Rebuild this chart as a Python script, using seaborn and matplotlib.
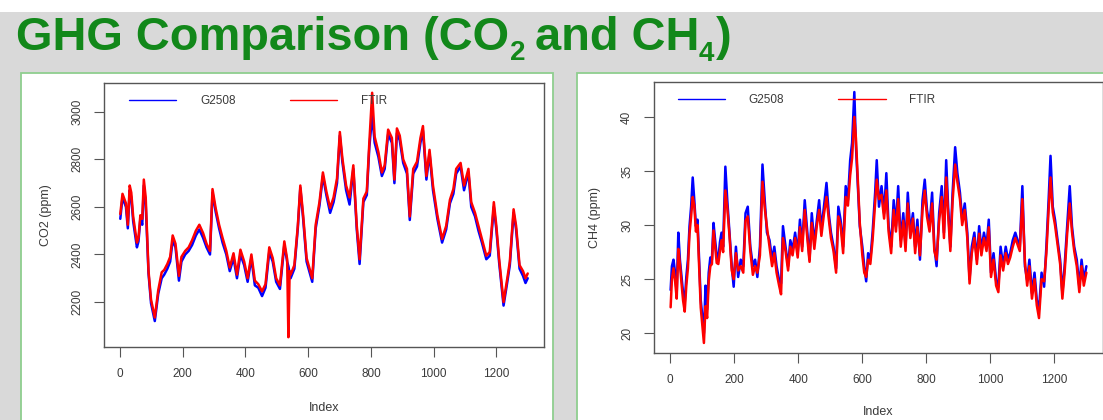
import numpy as np
import pandas as pd
import matplotlib
matplotlib.use("Agg")
import matplotlib.pyplot as plt
from matplotlib.patches import Rectangle
from matplotlib.lines import Line2D
import seaborn as sns

# --- DATA ---
co2_index = [1, 8, 19, 25, 31, 36, 42, 54, 59, 65, 71, 76, 82, 91, 99, 111, 122, 133, 141, 151,
             160, 168, 177, 188, 196, 208, 219, 230, 242, 253, 265, 276, 287, 295, 305, 316, 327,
             339, 350, 362, 373, 384, 396, 407, 419, 430, 441, 453, 464, 476, 487, 498, 510, 524,
             533, 537, 541, 544, 556, 567, 575, 584, 595, 613, 624, 636, 647, 658, 670, 681, 692,
             701, 709, 721, 732, 744, 755, 764, 776, 787, 795, 804, 812, 824, 835, 844, 855, 867,
             875, 883, 892, 903, 915, 924, 935, 947, 958, 966, 977, 987, 998, 1012, 1027, 1040,
             1052, 1063, 1072, 1086, 1097, 1111, 1120, 1132, 1143, 1154, 1168, 1179, 1192, 1200,
             1209, 1223, 1235, 1243, 1255, 1263, 1274, 1285, 1293, 1300]
co2_g2508 = [2550, 2640, 2600, 2510, 2670, 2640, 2540, 2430, 2455, 2550, 2525, 2690, 2610, 2320,
             2195, 2120, 2235, 2300, 2315, 2340, 2370, 2460, 2430, 2290, 2370, 2400, 2415, 2440,
             2480, 2505, 2470, 2430, 2400, 2660, 2580, 2510, 2450, 2400, 2330, 2385, 2300, 2400,
             2355, 2285, 2385, 2270, 2260, 2225, 2260, 2410, 2370, 2285, 2255, 2440, 2370, 2350,
             2320, 2300, 2340, 2510, 2680, 2550, 2370, 2285, 2510, 2605, 2730, 2650, 2575, 2620,
             2700, 2900, 2790, 2670, 2610, 2760, 2505, 2360, 2620, 2650, 2850, 2985, 2870, 2810,
             2730, 2760, 2905, 2870, 2700, 2910, 2880, 2785, 2740, 2545, 2740, 2770, 2870, 2920,
             2715, 2825, 2670, 2550, 2450, 2505, 2615, 2655, 2740, 2770, 2670, 2745, 2600, 2560,
             2500, 2450, 2380, 2395, 2600, 2505, 2365, 2185, 2285, 2355, 2575, 2505, 2340, 2310,
             2280, 2300]
co2_ftir = [2570, 2655, 2615, 2525, 2690, 2660, 2560, 2450, 2470, 2565, 2550, 2715, 2640, 2330,
            2210, 2135, 2250, 2325, 2335, 2360, 2390, 2480, 2445, 2310, 2390, 2415, 2430, 2460,
            2500, 2525, 2490, 2445, 2415, 2675, 2595, 2525, 2470, 2415, 2345, 2405, 2315, 2420,
            2370, 2300, 2400, 2290, 2275, 2245, 2275, 2430, 2385, 2300, 2270, 2455, 2380, 2052,
            2330, 2315, 2355, 2520, 2690, 2565, 2385, 2300, 2525, 2620, 2745, 2665, 2595, 2640,
            2720, 2915, 2805, 2690, 2640, 2775, 2520, 2380, 2635, 2665, 2870, 3080, 2895, 2830,
            2745, 2775, 2925, 2890, 2715, 2930, 2900, 2800, 2760, 2560, 2760, 2790, 2890, 2940,
            2730, 2840, 2690, 2565, 2465, 2520, 2630, 2675, 2760, 2785, 2690, 2760, 2620, 2575,
            2520, 2465, 2395, 2410, 2620, 2520, 2380, 2200, 2300, 2370, 2590, 2520, 2355, 2330,
            2300, 2320]

ch4_index = [1, 5, 10, 15, 20, 25, 30, 35, 40, 45, 50, 55, 60, 65, 70, 75, 80, 85, 90, 95, 100,
             105, 110, 115, 120, 125, 130, 135, 140, 145, 150, 155, 160, 165, 172, 178, 185, 192,
             198, 205, 212, 220, 228, 235, 242, 250, 258, 265, 272, 280, 288, 295, 302, 310, 318,
             325, 332, 340, 346, 352, 360, 368, 375, 382, 390, 398, 405, 412, 420, 428, 435, 442,
             450, 458, 465, 472, 480, 488, 495, 502, 510, 518, 525, 532, 540, 548, 555, 562, 568,
             575, 580, 586, 592, 600, 606, 612, 618, 625, 632, 640, 645, 652, 660, 668, 675, 682,
             690, 698, 705, 712, 720, 728, 735, 742, 750, 758, 765, 772, 780, 788, 795, 802, 810,
             818, 825, 832, 840, 848, 855, 862, 868, 875, 882, 890, 897, 905, 912, 920, 928, 935,
             942, 950, 958, 965, 972, 980, 988, 995, 1002, 1010, 1018, 1025, 1032, 1040, 1048,
             1055, 1062, 1070, 1078, 1085, 1092, 1100, 1108, 1115, 1122, 1130, 1138, 1145, 1152,
             1160, 1168, 1175, 1182, 1188, 1195, 1202, 1210, 1218, 1225, 1232, 1240, 1248, 1255,
             1262, 1270, 1278, 1285, 1292, 1300]
ch4_g2508 = [24.0, 26.2, 26.8, 25.6, 23.7, 29.3, 26.8, 25.2, 23.7, 22.8, 25.2, 26.8, 29.9, 31.7,
             34.4, 32.3, 29.9, 30.5, 26.8, 23.1, 21.5, 20.0, 24.4, 22.2, 25.6, 27.0, 26.8, 30.2,
             28.6, 27.2, 26.8, 28.4, 29.3, 28.0, 35.4, 32.3, 29.3, 26.2, 24.3, 28.0, 25.2, 26.8,
             26.2, 31.1, 31.7, 28.0, 26.2, 26.8, 25.2, 28.0, 35.6, 32.3, 29.3, 28.6, 26.8, 28.0,
             26.2, 24.9, 24.6, 29.9, 28.0, 26.2, 28.6, 27.7, 29.3, 27.4, 30.5, 28.0, 32.3, 29.3,
             26.8, 31.1, 28.3, 30.5, 32.3, 29.6, 31.7, 33.9, 31.1, 29.3, 28.0, 26.0, 31.7, 30.5,
             28.0, 33.6, 32.3, 36.0, 37.6, 42.3, 37.3, 33.6, 29.9, 28.0, 26.2, 24.8, 27.4, 26.8,
             29.3, 33.0, 36.0, 31.7, 33.6, 31.1, 34.8, 29.9, 28.0, 32.3, 29.9, 33.6, 28.6, 31.1,
             28.0, 33.0, 29.3, 31.1, 28.0, 30.5, 26.8, 32.3, 34.2, 31.4, 29.9, 33.0, 28.0, 26.2,
             31.1, 33.6, 29.3, 36.0, 31.7, 28.0, 33.0, 37.2, 34.8, 33.0, 30.5, 32.0, 29.3, 25.0,
             28.0, 29.3, 26.8, 29.9, 27.7, 29.3, 28.0, 30.5, 25.6, 27.4, 24.9, 24.3, 28.0, 26.2,
             28.0, 26.8, 27.4, 28.6, 29.3, 28.6, 28.0, 33.6, 26.2, 24.9, 26.8, 23.7, 25.6, 23.1,
             22.2, 25.6, 24.3, 28.0, 32.3, 36.4, 31.7, 30.5, 28.6, 26.8, 23.7, 26.2, 29.9, 33.6,
             29.9, 28.0, 26.8, 24.3, 26.8, 24.9, 26.2]
ch4_ftir = [22.4, 25.0, 26.0, 24.8, 23.2, 27.8, 26.4, 24.6, 23.0, 22.0, 24.4, 26.0, 29.2, 30.8,
            32.6, 31.8, 29.4, 30.0, 26.2, 22.4, 20.8, 19.1, 22.5, 21.4, 24.8, 26.2, 26.4, 29.5,
            28.0, 26.5, 26.4, 27.6, 28.6, 27.5, 33.2, 31.6, 29.0, 25.8, 25.0, 27.4, 25.8, 26.2,
            25.6, 30.4, 30.8, 27.6, 25.4, 26.2, 25.6, 27.2, 34.0, 31.6, 29.8, 28.0, 26.2, 27.4,
            25.6, 24.4, 23.6, 28.8, 27.6, 25.8, 28.0, 27.2, 28.8, 27.0, 29.8, 27.6, 31.4, 28.8,
            26.6, 30.2, 27.8, 30.0, 31.4, 29.0, 31.0, 32.6, 30.6, 28.8, 27.6, 25.6, 30.8, 30.0,
            27.4, 32.6, 31.8, 34.6, 36.2, 40.0, 38.0, 34.0, 30.2, 27.2, 25.6, 25.2, 26.8, 26.4,
            28.6, 32.0, 34.2, 32.4, 32.8, 30.6, 33.2, 29.4, 27.4, 31.4, 29.4, 32.4, 28.0, 30.4,
            27.6, 32.0, 28.8, 30.6, 27.4, 29.8, 27.2, 31.4, 33.2, 30.8, 29.4, 32.0, 27.6, 26.8,
            30.4, 32.6, 28.8, 34.4, 31.0, 27.6, 32.2, 35.6, 34.0, 32.4, 30.0, 31.4, 28.8, 24.6,
            27.4, 28.8, 26.4, 29.2, 27.2, 28.8, 27.6, 29.8, 25.2, 26.8, 24.4, 23.8, 27.2, 25.8,
            27.4, 26.4, 27.0, 28.0, 28.8, 28.2, 27.6, 32.4, 26.6, 24.4, 26.2, 23.2, 25.0, 22.6,
            21.4, 25.0, 24.8, 27.4, 31.4, 34.4, 31.2, 30.0, 28.2, 26.4, 23.2, 25.6, 29.2, 32.0,
            29.4, 27.6, 26.2, 23.8, 26.2, 24.4, 25.6]

series_names = ["G2508", "FTIR"]
series_colors = ["#0000ff", "#ff0000"]
x_ticks = [0, 200, 400, 600, 800, 1000, 1200]
co2_ticks = [2200, 2400, 2600, 2800, 3000]
ch4_ticks = [20, 25, 30, 35, 40]

# title pieces: (text, fontsize, baseline drop in px, gap before in px)
title_parts = [("GHG Comparison (CO", 33.8, 0, 0), ("2", 20, 10, 1),
               ("and CH", 33.8, 0, 9), ("4", 20, 11, 0), (")", 33.8, 0, 2)]

title_green = "#12881a"
border_green = "#8fce8f"

# --- STYLE ---
sns.set_style("white")
plt.rcParams["font.family"] = ["Liberation Sans", "DejaVu Sans"]

W, H = 1103, 420
fig = plt.figure(figsize=(W / 100, H / 100), dpi=100)
fig.patch.set_facecolor("white")

# slide background and the two framed panels
fig.patches.append(Rectangle((0, 0), 1, 1 - 12 / H, transform=fig.transFigure,
                             facecolor="#d9d9d9", edgecolor="none", zorder=0))
for px0, px1 in [(21, 553), (577, 1140)]:
    fig.patches.append(Rectangle((px0 / W, -0.05), (px1 - px0) / W, 1.05 - 73 / H,
                                 transform=fig.transFigure, facecolor="white",
                                 edgecolor=border_green, linewidth=1.3, zorder=1))

# title, built piece by piece so the subscripts sit like on the slide
renderer = fig.canvas.get_renderer()
x_px = 16
for txt, fs, drop, gap in title_parts:
    x_px += gap
    t = fig.text(x_px / W, 1 - (50 + drop) / H, txt, fontsize=fs, fontweight="bold",
                 color=title_green, va="baseline", ha="left")
    x_px = t.get_window_extent(renderer).x1


def r_range(vals):
    lo, hi = min(vals), max(vals)
    pad = (hi - lo) * 0.04
    return lo - pad, hi + pad


def draw_panel(ax, idx, g_vals, f_vals, yticks, ylabel, lw, leg_x, xlab_y, ylab_x):
    df = pd.DataFrame({"Index": idx * 2,
                       "value": list(g_vals) + list(f_vals),
                       "series": [series_names[0]] * len(idx) + [series_names[1]] * len(idx)})
    sns.lineplot(data=df, x="Index", y="value", hue="series", palette=series_colors,
                 hue_order=series_names, estimator=None, sort=False, linewidth=lw,
                 legend=False, ax=ax)
    ax.set_xlim(*r_range(idx))
    ax.set_ylim(*r_range(list(g_vals) + list(f_vals)))
    ax.set_xticks(x_ticks)
    ax.set_yticks(yticks)
    ax.tick_params(direction="out", length=7, width=0.8, color="#555555",
                   labelcolor="#3a3a3a", labelsize=8.5, pad=8, bottom=True, left=True)
    ax.tick_params(axis="y", labelrotation=90)
    for lbl in ax.get_yticklabels():
        lbl.set_va("center")
    for sp in ax.spines.values():
        sp.set_color("#555555")
        sp.set_linewidth(1.0)
    ax.set_xlabel("Index", fontsize=9, color="#3a3a3a")
    ax.set_ylabel(ylabel, fontsize=9, color="#3a3a3a")
    ax.xaxis.set_label_coords(0.5, xlab_y)
    ax.yaxis.set_label_coords(ylab_x, 0.5)
    handles = [Line2D([], [], color=c, linewidth=1.0) for c in series_colors]
    leg = ax.legend(handles, series_names, ncol=2, frameon=False, loc="upper left",
                    bbox_to_anchor=(leg_x, 0.955), borderpad=0, borderaxespad=0,
                    handlelength=4.0, handletextpad=2.0, columnspacing=4.6, fontsize=8.5)
    for t in leg.get_texts():
        t.set_color("#3a3a3a")


ax1 = fig.add_axes([104 / W, 1 - 347 / H, 440 / W, 264 / H], zorder=2)
ax2 = fig.add_axes([654 / W, 1 - 353 / H, 449 / W, 271 / H], zorder=2)

draw_panel(ax1, co2_index, co2_g2508, co2_ftir, co2_ticks, "CO2 (ppm)", 1.8,
           0.057, -0.208, -0.118)
draw_panel(ax2, ch4_index, ch4_g2508, ch4_ftir, ch4_ticks, "CH4 (ppm)", 1.8,
           0.053, -0.196, -0.118)

fig.savefig("out.png", dpi=100)
